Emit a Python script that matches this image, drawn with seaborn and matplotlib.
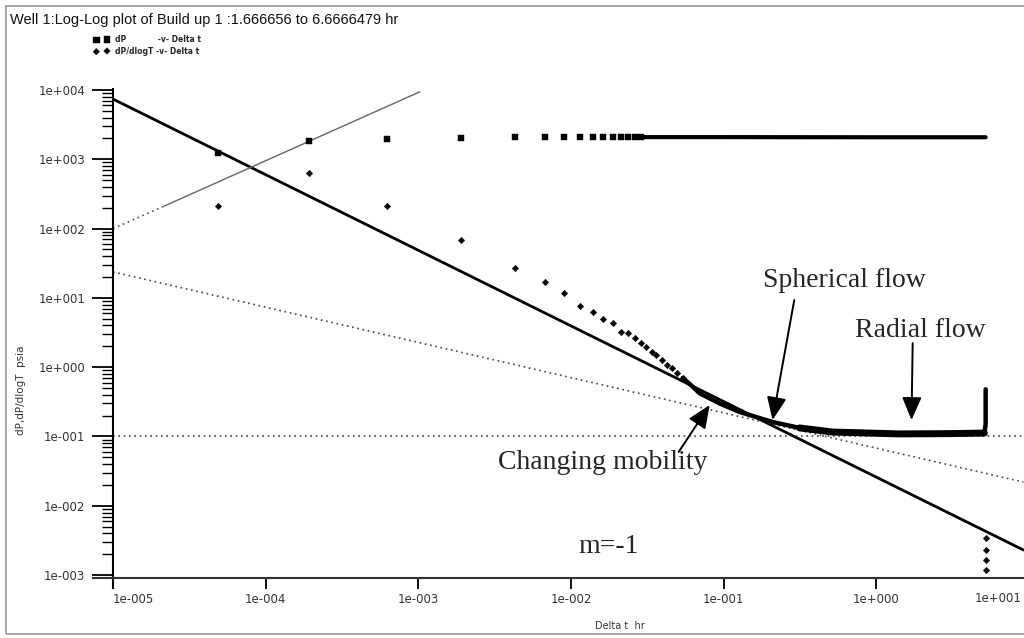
import numpy as np
import pandas as pd
import matplotlib
matplotlib.use("Agg")
import matplotlib.pyplot as plt
import seaborn as sns
from matplotlib.ticker import FixedLocator, FuncFormatter, LogLocator, NullFormatter
from matplotlib.patches import Rectangle

# ---------------- data ----------------
dp_t = [4.86e-5, 1.92e-4, 6.22e-4, 1.90e-3, 4.28e-3, 6.73e-3, 8.97e-3, 1.14e-2,
        1.39e-2, 1.61e-2, 1.88e-2, 2.12e-2, 2.35e-2, 2.61e-2, 2.86e-2]
dp_p = [1230, 1830, 1960, 2030, 2080, 2080, 2090, 2090,
        2090, 2090, 2090, 2090, 2090, 2090, 2090]
dp_dense_t = [3.0e-2, 0.1, 1.0, 5.2]
dp_dense_p = [2090, 2090, 2080, 2080]

der_t = [4.86e-5, 1.92e-4, 6.22e-4, 1.90e-3, 4.28e-3, 6.73e-3, 8.97e-3, 1.14e-2,
         1.39e-2, 1.61e-2, 1.88e-2, 2.12e-2, 2.35e-2, 2.61e-2, 2.86e-2, 3.09e-2,
         3.38e-2, 3.59e-2, 3.93e-2, 4.24e-2, 4.57e-2, 4.92e-2, 5.39e-2]
der_p = [213, 632, 213, 68, 27, 16.9, 11.8, 7.6,
         6.3, 4.97, 4.35, 3.22, 3.12, 2.64, 2.23, 1.95,
         1.66, 1.50, 1.27, 1.08, 0.97, 0.82, 0.70]
der_dense_t = [5.39e-2, 6.17e-2, 6.96e-2, 9.4e-2, 0.127, 0.209, 0.314]
der_dense_p = [0.70, 0.54, 0.42, 0.30, 0.226, 0.162, 0.133]
der_flat_t = [0.314, 0.517, 1.42, 3.0, 5.1]
der_flat_p = [0.133, 0.116, 0.109, 0.110, 0.112]
der_spike_t = [5.1, 5.2, 5.2]
der_spike_p = [0.112, 0.15, 0.48]
der_tail_t = [5.2, 5.2, 5.2, 5.2]
der_tail_p = [0.0034, 0.0023, 0.00166, 0.00118]

# straight-line diagnostics
line_t = [1e-5, 9.2]
mneg1_p = [7400, 0.0023]          # m = -1 line
half_p = [23.7, 0.022]            # spherical (-1/2) line
radial_p = [0.1, 0.1]             # radial flow stabilisation
unit_t = [1e-5, 2.1e-5, 1.02e-3]  # unit slope (wellbore storage)
unit_p = [100, 205, 9400]

x_ticks = [1e-5, 1e-4, 1e-3, 1e-2, 1e-1, 1e0, 1e1]
y_ticks = [1e-3, 1e-2, 1e-1, 1e0, 1e1, 1e2, 1e3, 1e4]

title = "Well 1:Log-Log plot of Build up 1 :1.666656 to 6.6666479 hr"

# ---------------- figure ----------------
sns.set_theme(style="white")
plt.rcParams["font.family"] = ["DejaVu Sans"]

W, H = 1024, 638
fig = plt.figure(figsize=(W / 100, H / 100), dpi=100)
ax_left, ax_right, ax_top, ax_bot = 113, 1029, 89, 578
ax = fig.add_axes([ax_left / W, 1 - ax_bot / H, (ax_right - ax_left) / W, (ax_bot - ax_top) / H])
ax.set_xscale("log")
ax.set_yscale("log")
ax.set_xlim(1e-5, 1e1)
ax.set_ylim(9.08e-4, 1.034e4)

dotted = (0, (1.0, 2.2))

# reference lines
sns.lineplot(x=line_t, y=mneg1_p, ax=ax, color="black", lw=2.0, estimator=None, sort=False)
sns.lineplot(x=line_t, y=half_p, ax=ax, color="#444444", lw=1.2, linestyle=dotted, estimator=None, sort=False)
sns.lineplot(x=line_t, y=radial_p, ax=ax, color="#444444", lw=1.2, linestyle=dotted, estimator=None, sort=False)
sns.lineplot(x=unit_t[:2], y=unit_p[:2], ax=ax, color="#555555", lw=1.2, linestyle=dotted, estimator=None, sort=False)
sns.lineplot(x=unit_t[1:], y=unit_p[1:], ax=ax, color="#666666", lw=1.0, estimator=None, sort=False)

# pressure change
sns.scatterplot(x=dp_t, y=dp_p, ax=ax, marker="s", s=22, color="black", edgecolor="black", linewidth=0.3,
                label="dP            -v- Delta t", zorder=5)
sns.lineplot(x=dp_dense_t, y=dp_dense_p, ax=ax, color="black", lw=3.0, estimator=None, sort=False, zorder=5)

# derivative
sns.scatterplot(x=der_t, y=der_p, ax=ax, marker="D", s=11, color="black", edgecolor="black", linewidth=0.3,
                label="dP/dlogT -v- Delta t", zorder=5)
sns.lineplot(x=der_dense_t, y=der_dense_p, ax=ax, color="black", lw=3.2, estimator=None, sort=False, zorder=5)
sns.lineplot(x=der_flat_t, y=der_flat_p, ax=ax, color="black", lw=5.0, estimator=None, sort=False, zorder=5)
sns.lineplot(x=der_spike_t, y=der_spike_p, ax=ax, color="black", lw=3.2, estimator=None, sort=False, zorder=5)
sns.scatterplot(x=der_tail_t, y=der_tail_p, ax=ax, marker="D", s=11, color="black", edgecolor="black",
                linewidth=0.3, zorder=5)

# ---------------- axes styling ----------------
for side in ["top", "right"]:
    ax.spines[side].set_visible(False)
ax.spines["left"].set_color("black")
ax.spines["left"].set_linewidth(1.5)
ax.spines["bottom"].set_color("#333333")
ax.spines["bottom"].set_linewidth(1.5)
ax.spines["bottom"].set_bounds(7.4e-6, 1e1)
ax.spines["left"].set_bounds(6.6e-4, 1.034e4)

def sci(v, pos):
    e = int(round(np.log10(v)))
    return "1e" + ("%+04d" % e)

def sci_x(v, pos):
    e = int(round(np.log10(v)))
    if e >= 1:
        return ""
    return sci(v, pos)

ax.xaxis.set_major_locator(FixedLocator(x_ticks))
ax.xaxis.set_minor_locator(FixedLocator([]))
ax.xaxis.set_major_formatter(FuncFormatter(sci_x))
ax.yaxis.set_major_locator(FixedLocator(y_ticks))
ax.yaxis.set_minor_locator(LogLocator(base=10, subs=np.arange(2, 10)))
ax.yaxis.set_major_formatter(FuncFormatter(sci))
ax.yaxis.set_minor_formatter(NullFormatter())

ax.tick_params(axis="y", which="major", direction="out", length=15, width=1.3, pad=5,
               labelsize=8.5, labelcolor="#333333", color="black", left=True)
ax.tick_params(axis="y", which="minor", direction="out", length=8, width=1.0, color="black", left=True)
ax.tick_params(axis="x", which="major", direction="out", length=8, width=1.3, pad=3,
               labelsize=8.5, labelcolor="#333333", color="black", bottom=True)
xt = ax.get_xticklabels()
xt[0].set_horizontalalignment("left")
# last decade label sits at the right edge of the picture
fig.text(1022 / W, 1 - 598 / H, sci(x_ticks[-1], None), fontsize=8.5, color="#333333",
         ha="right", va="center")

ax.set_xlabel("Delta t  hr", fontsize=7, color="#333333")
ax.xaxis.set_label_coords((620 - ax_left) / (ax_right - ax_left), -(621 - ax_bot) / (ax_bot - ax_top))
ax.set_ylabel("dP,dP/dlogT  psia", fontsize=7.5, color="#333333")
ax.yaxis.set_label_coords(-(ax_left - 26) / (ax_right - ax_left), (ax_bot - 390) / (ax_bot - ax_top))

# legend
leg = ax.legend(loc="upper left", bbox_to_anchor=((94 - ax_left) / (ax_right - ax_left), 1 + (ax_top - 35) / (ax_bot - ax_top)),
                frameon=False, fontsize=5.5, scatterpoints=2, handlelength=2.0, handletextpad=0.8,
                labelspacing=0.35, borderpad=0, borderaxespad=0)
for txt in leg.get_texts():
    txt.set_fontweight("bold")

# annotations
serif = "Liberation Serif"
arrow = dict(arrowstyle="-|>,head_length=0.7,head_width=0.3", color="black", lw=1.4,
             mutation_scale=20, shrinkA=0, shrinkB=0)
ax.annotate("", xy=(0.209, 0.173), xytext=(0.29, 9.3), arrowprops=arrow)
ax.annotate("", xy=(1.70, 0.173), xytext=(1.73, 2.23), arrowprops=arrow)
ax.annotate("", xy=(0.081, 0.285), xytext=(0.0507, 0.0597), arrowprops=arrow)
ax.text(0.62, 18.1, "Spherical flow", family=serif, fontsize=20, ha="center", va="center")
ax.text(1.95, 3.44, "Radial flow", family=serif, fontsize=20, ha="center", va="center")
ax.text(0.0161, 0.0415, "Changing mobility", family=serif, fontsize=20, ha="center", va="center")
ax.text(0.0177, 0.0026, "m=-1", family=serif, fontsize=20, ha="center", va="center")

# title and outer frame
fig.text(10 / W, 1 - 24 / H, title, family="Liberation Sans", fontsize=10.5, ha="left", va="baseline",
         color="#111111")
fig.patches.append(Rectangle((6 / W, 4 / H), 1.2, 1 - 10 / H, transform=fig.transFigure, fill=False,
                             edgecolor="#9a9a9a", lw=1.2))

fig.savefig("out.png", dpi=100)
